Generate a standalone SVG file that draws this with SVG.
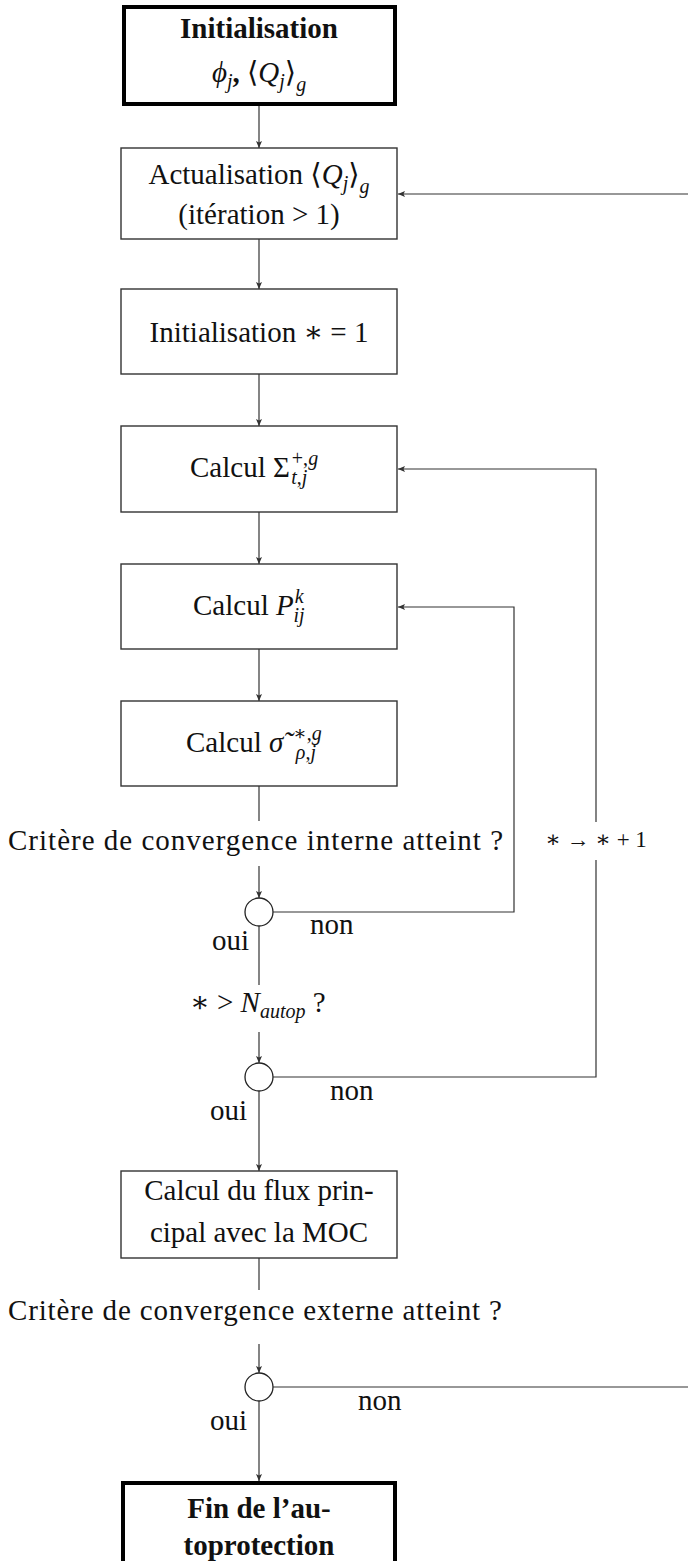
<svg xmlns="http://www.w3.org/2000/svg" width="688" height="1561" viewBox="0 0 688 1561">
<style>
text{font-family:"Liberation Serif","Times New Roman",Tinos,"Noto Serif","DejaVu Serif",FreeSerif,serif}
.t{font-size:29px;fill:#111}
.b{font-weight:bold}
.i{font-style:italic;font-weight:normal}
.n{font-weight:normal}
.s{font-size:20px}
.sm{font-size:23px}
.ln{stroke:#333;stroke-width:1.2;fill:none}
.box{fill:#fff;stroke:#333;stroke-width:1.4}
.tbox{fill:#fff;stroke:#000;stroke-width:4}
.c{fill:#fff;stroke:#222;stroke-width:1.3}
</style>
<defs>
<marker id="ah" markerWidth="8" markerHeight="8" refX="7" refY="4" orient="auto" markerUnits="userSpaceOnUse">
<path d="M0,1 L7,4 L0,7 L1.5,4 z" fill="#333"/>
</marker>
</defs>
<rect width="688" height="1561" fill="#fff"/>
<g id="n_init">
<rect class="tbox" x="124" y="7" width="271" height="97"/>
<text class="t b" x="259" y="38" text-anchor="middle">Initialisation</text>
<text class="t b" x="259" y="82" text-anchor="middle"><tspan class="i">ϕ</tspan><tspan class="i s" dy="6">j</tspan><tspan dy="-6">, </tspan><tspan class="n">⟨</tspan><tspan class="i">Q</tspan><tspan class="i s" dy="6">j</tspan><tspan class="n" dy="-6">⟩</tspan><tspan class="i s" dy="9">g</tspan></text>
</g>
<g id="n_actu">
<rect class="box" x="121" y="148" width="276" height="91"/>
<text class="t" x="259" y="184" text-anchor="middle">Actualisation ⟨<tspan class="i">Q</tspan><tspan class="i s" dy="6">j</tspan><tspan dy="-6">⟩</tspan><tspan class="i s" dy="9">g</tspan></text>
<text class="t" x="259" y="224" text-anchor="middle">(itération &gt; 1)</text>
</g>
<g id="n_star">
<rect class="box" x="121" y="289" width="276" height="85"/>
<text class="t" x="259" y="342" text-anchor="middle">Initialisation ∗ = 1</text>
</g>
<g id="n_sigma">
<rect class="box" x="121" y="426" width="276" height="86"/>
<text class="t" x="190" y="477">Calcul Σ<tspan class="s" dx="2" dy="-12">+,</tspan><tspan class="s i">g</tspan><tspan class="s i" dx="-27" dy="19">t</tspan><tspan class="s">,</tspan><tspan class="s i">j</tspan></text>
</g>
<g id="n_p">
<rect class="box" x="121" y="564" width="276" height="85"/>
<text class="t" x="193" y="615">Calcul <tspan class="i">P</tspan><tspan class="s i" dx="1" dy="-12">k</tspan><tspan class="s i" dx="-10" dy="19">ij</tspan></text>
</g>
<g id="n_sig2">
<rect class="box" x="121" y="701" width="276" height="85"/>
<text class="t" x="186" y="752">Calcul <tspan class="i">σ̃</tspan><tspan class="s" dx="10" dy="-12">∗,</tspan><tspan class="s i">g</tspan><tspan class="s i" dx="-26" dy="19">ρ</tspan><tspan class="s">,</tspan><tspan class="s i">j</tspan></text>
</g>
<g id="q_int">
<text class="t" x="8" y="850" textLength="495">Critère de convergence interne atteint ?</text>
<circle class="c" cx="259" cy="912" r="14"/>
</g>
<g id="q_autop">
<text class="t" x="190" y="1012">∗ &gt; <tspan class="i">N</tspan><tspan class="s i" dy="6">autop</tspan><tspan dy="-6"> ?</tspan></text>
<circle class="c" cx="259" cy="1077" r="14"/>
</g>
<g id="n_moc">
<rect class="box" x="121" y="1171" width="276" height="87"/>
<text class="t" x="259" y="1200" text-anchor="middle">Calcul du flux prin-</text>
<text class="t" x="259" y="1242" text-anchor="middle">cipal avec la MOC</text>
</g>
<g id="q_ext">
<text class="t" x="8" y="1320" textLength="494">Critère de convergence externe atteint ?</text>
<circle class="c" cx="259" cy="1387" r="14"/>
</g>
<g id="n_fin">
<rect class="tbox" x="123" y="1483" width="272" height="90"/>
<text class="t b" x="259" y="1518" text-anchor="middle">Fin de l’au-</text>
<text class="t b" x="259" y="1555" text-anchor="middle">toprotection</text>
</g>
<g id="connectors">
<path class="ln" d="M259,106 V148" marker-end="url(#ah)"/>
<path class="ln" d="M259,239 V289" marker-end="url(#ah)"/>
<path class="ln" d="M259,374 V426" marker-end="url(#ah)"/>
<path class="ln" d="M259,512 V564" marker-end="url(#ah)"/>
<path class="ln" d="M259,649 V701" marker-end="url(#ah)"/>
<path class="ln" d="M259,786 V821"/>
<path class="ln" d="M259,866 V898" marker-end="url(#ah)"/>
<path class="ln" d="M259,926 V985"/>
<path class="ln" d="M259,1032 V1063" marker-end="url(#ah)"/>
<path class="ln" d="M259,1091 V1171" marker-end="url(#ah)"/>
<path class="ln" d="M259,1258 V1290"/>
<path class="ln" d="M259,1344 V1373" marker-end="url(#ah)"/>
<path class="ln" d="M259,1401 V1481" marker-end="url(#ah)"/>
<path class="ln" d="M273,912 H514 V607 H398" marker-end="url(#ah)"/>
<path class="ln" d="M273,1077 H596 V860"/>
<path class="ln" d="M596,822 V469 H398" marker-end="url(#ah)"/>
<path class="ln" d="M273,1387 H700 V194 H398" marker-end="url(#ah)"/>
<text class="t sm" x="596" y="847" text-anchor="middle">∗ → ∗ + 1</text>
<text class="t" x="310" y="934">non</text>
<text class="t" x="212" y="950">oui</text>
<text class="t" x="330" y="1100">non</text>
<text class="t" x="210" y="1120">oui</text>
<text class="t" x="358" y="1410">non</text>
<text class="t" x="210" y="1430">oui</text>
</g>
</svg>
